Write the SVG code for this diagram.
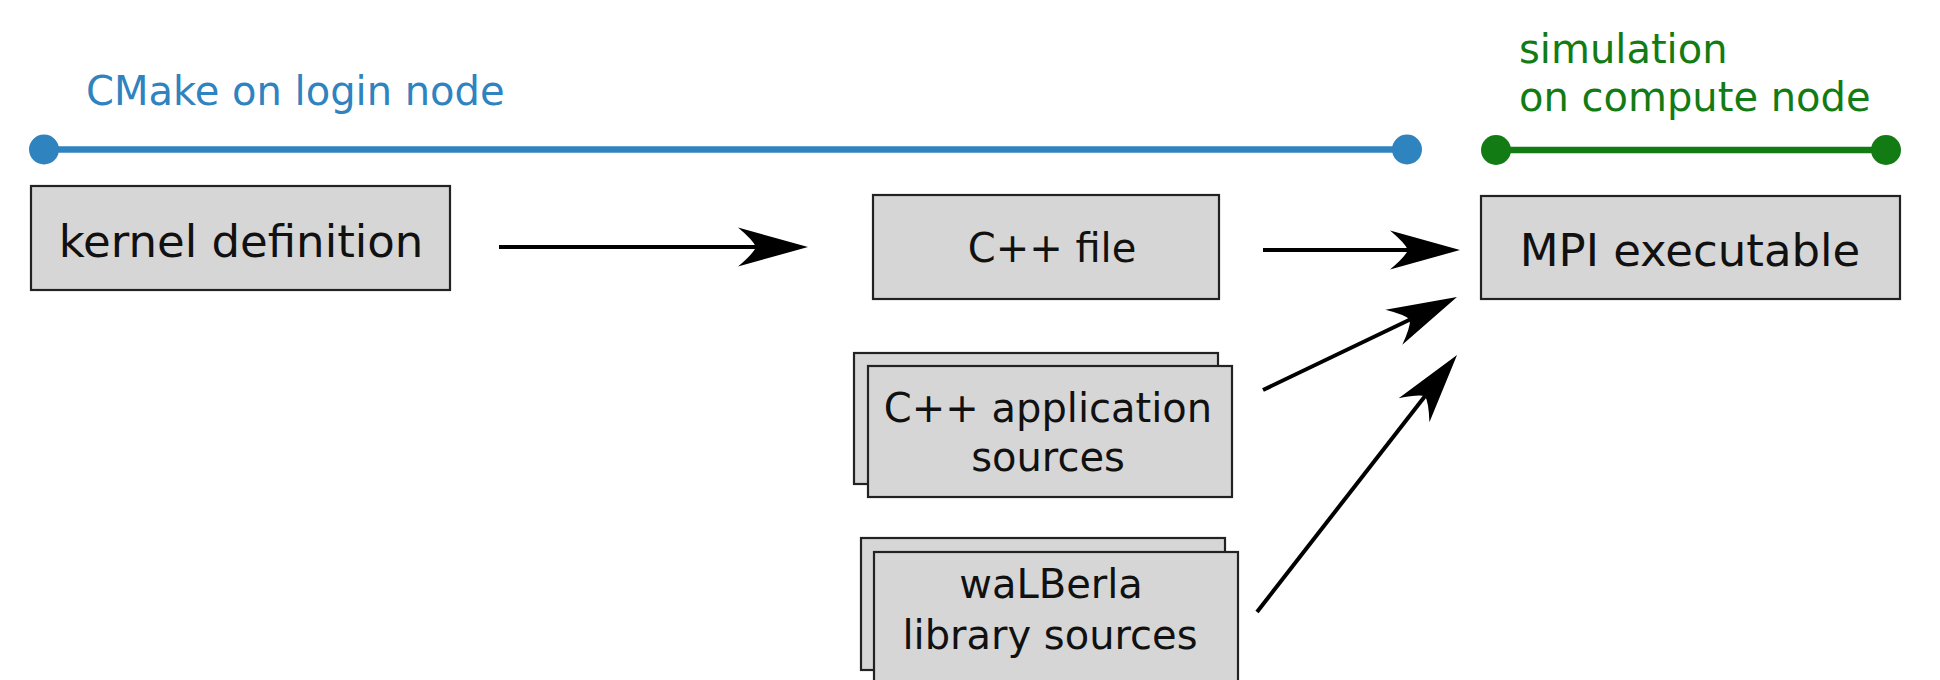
<svg xmlns="http://www.w3.org/2000/svg" width="1940" height="680" viewBox="0 0 1940 680">
<style>
.box{fill:#d6d6d6;stroke:#222;stroke-width:2.2}
.lbl{font-family:"DejaVu Sans",Verdana,sans-serif;fill:#111;text-anchor:middle}
.big{font-size:45px}
.mid{font-size:40px}
.cap{font-family:"DejaVu Sans",Verdana,sans-serif;font-size:40px}
.conn{stroke:#000;stroke-width:4;fill:none;marker-end:url(#ah)}
</style>
<defs>
<marker id="ah" markerUnits="userSpaceOnUse" markerWidth="80" markerHeight="50" refX="0" refY="0" viewBox="-20 -25 80 50" orient="auto" overflow="visible">
<path d="M52,0 L-18,-19.5 Q-3,-7 0,0 Q-3,7 -18,19.5 Z" fill="#000"/>
</marker>
</defs>
<rect width="1940" height="680" fill="#fff"/>
<g id="phase-cmake">
<text class="cap" x="86" y="105" fill="#2f83bf">CMake on login node</text>
<line x1="44" y1="149.5" x2="1407" y2="149.5" stroke="#2f83bf" stroke-width="6.5"/>
<circle cx="44" cy="149.5" r="15" fill="#2f83bf"/>
<circle cx="1407" cy="149.5" r="15" fill="#2f83bf"/>
</g>
<g id="phase-sim">
<text class="cap" x="1519" y="63" fill="#137b13">simulation</text>
<text class="cap" x="1519" y="111" fill="#137b13">on compute node</text>
<line x1="1496" y1="150" x2="1886" y2="150" stroke="#137b13" stroke-width="6.5"/>
<circle cx="1496" cy="150" r="15" fill="#137b13"/>
<circle cx="1886" cy="150" r="15" fill="#137b13"/>
</g>
<g id="kernel-definition">
<rect class="box" x="31" y="186" width="419" height="104"/>
<text class="lbl big" x="241" y="257">kernel definition</text>
</g>
<g id="cpp-file">
<rect class="box" x="873" y="195" width="346" height="104"/>
<text class="lbl mid" x="1052" y="262">C++ file</text>
</g>
<g id="cpp-app-sources">
<rect class="box" x="854" y="353" width="364" height="131"/>
<rect class="box" x="868" y="366" width="364" height="131"/>
<text class="lbl mid" x="1048" y="422">C++ application</text>
<text class="lbl mid" x="1048" y="471">sources</text>
</g>
<g id="walberla-sources">
<rect class="box" x="861" y="538" width="364" height="132"/>
<rect class="box" x="874" y="552" width="364" height="132"/>
<text class="lbl mid" x="1051" y="598">waLBerla</text>
<text class="lbl mid" x="1050" y="649">library sources</text>
</g>
<g id="mpi-executable">
<rect class="box" x="1481" y="196" width="419" height="103"/>
<text class="lbl big" x="1690" y="266">MPI executable</text>
</g>
<g id="connectors">
<line class="conn" x1="499" y1="247" x2="756" y2="247"/>
<line class="conn" x1="1263" y1="250" x2="1408" y2="250"/>
<line class="conn" x1="1263" y1="390" x2="1410.1" y2="319.5"/>
<line class="conn" x1="1257" y1="612" x2="1425.1" y2="396"/>
</g>
</svg>
